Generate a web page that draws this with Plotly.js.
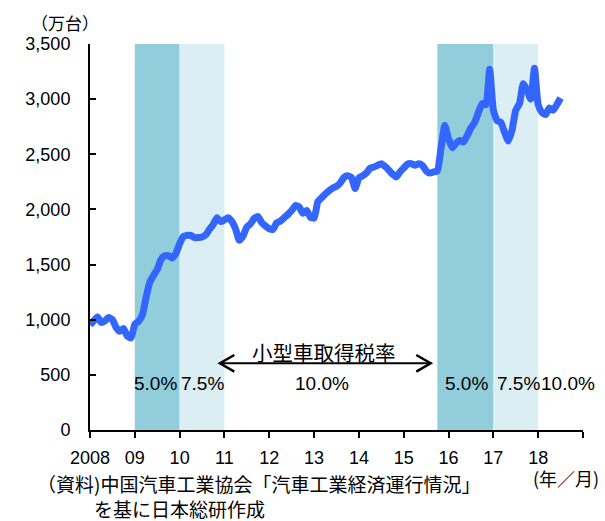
<!DOCTYPE html>
<html>
<head>
<meta charset="utf-8">
<script src="https://cdn.plot.ly/plotly-3.0.1.min.js"></script>
<style>html,body{margin:0;padding:0;background:#fff;}#chart{width:605px;height:521px;}</style>
</head>
<body>
<div id="chart"></div>
<script>
// Monthly sales (annualized, 万台), Jan 2008 - Jul 2018
const startYear = 2008;
const sales = [
  952, 990, 1025, 975, 990, 1020, 1000, 930, 895, 920, 850, 835,
  960, 985, 1040, 1200, 1340, 1400, 1455, 1545, 1580, 1580, 1560, 1600,
  1690, 1755, 1765, 1765, 1745, 1745, 1750, 1770, 1820, 1865, 1925, 1890,
  1905, 1925, 1890, 1820, 1720, 1760, 1840, 1870, 1920, 1935, 1880, 1850,
  1825, 1820, 1880, 1895, 1925, 1955, 1990, 2035, 2022, 1965, 1990, 1930,
  1920, 2070, 2105, 2140, 2170, 2195, 2210, 2240, 2290, 2305, 2290, 2190,
  2285, 2305, 2330, 2375, 2385, 2400, 2415, 2390, 2357, 2320, 2295, 2340,
  2375, 2410, 2415, 2400, 2415, 2400, 2350, 2330, 2340, 2350, 2560, 2760,
  2640, 2560, 2600, 2625, 2611, 2670, 2740, 2790, 2880, 2960, 2950, 3270,
  2900, 2805, 2790, 2700, 2620, 2720, 2900, 2960, 3140, 3080, 3000, 3280,
  2950, 2880, 2860, 2920, 2900, 2950, 3010
];
const monthX = sales.map((_, i) => startYear + i / 12);

const tickVals = [2008, 2009, 2010, 2011, 2012, 2013, 2014, 2015, 2016, 2017, 2018, 2019];
const tickText = ['2008', '09', '10', '11', '12', '13', '14', '15', '16', '17', '18', ''];

// Tax rate periods
const periodStart = [2009, 2010, 2015.75, 2017];
const periodEnd   = [2010, 2011, 2017, 2018];
const periodColor = ['#92CDDC', '#DAEEF3', '#92CDDC', '#DAEEF3'];
const rateLabels = ['5.0%', '7.5%', '10.0%', '5.0%', '7.5%', '10.0%'];
const rateLabelX = [2009.47, 2010.5, 2013.18, 2016.4, 2017.55, 2018.67];

const FONT = 'Liberation Sans, Arial, Noto Sans CJK JP, sans-serif';
const JFONT = 'Noto Sans CJK JP, Liberation Sans, sans-serif';

const shapes = periodStart.map((s, i) => ({
  type: 'rect', xref: 'x', yref: 'y', x0: s, x1: periodEnd[i], y0: 0, y1: 3500,
  fillcolor: periodColor[i], line: {width: 0}, layer: 'below'
}));

// double-headed arrow
const ax0 = 2010.9, ax1 = 2015.6, ay = 605;
const hw = 0.32, hh = 75;
shapes.push({type: 'line', xref: 'x', yref: 'y', x0: ax0, x1: ax1, y0: ay, y1: ay, line: {color: '#000', width: 2}});
shapes.push({type: 'path', xref: 'x', yref: 'y',
  path: `M ${ax0 + hw} ${ay + hh} L ${ax0} ${ay} L ${ax0 + hw} ${ay - hh}`, line: {color: '#000', width: 2.5}});
shapes.push({type: 'path', xref: 'x', yref: 'y',
  path: `M ${ax1 - hw} ${ay + hh} L ${ax1} ${ay} L ${ax1 - hw} ${ay - hh}`, line: {color: '#000', width: 2.5}});

const annotations = rateLabels.map((t, i) => ({
  text: t, x: rateLabelX[i], y: 420, xref: 'x', yref: 'y', showarrow: false,
  font: {family: FONT, size: 19, color: '#000'}
}));
annotations.push({text: '小型車取得税率', x: 2013.22, y: 710, xref: 'x', yref: 'y', showarrow: false,
  font: {family: JFONT, size: 20.5, color: '#000'}});
annotations.push({text: '（万台）', x: 65, y: 22, showarrow: false,
  font: {family: JFONT, size: 17, color: '#000'}});
annotations.push({text: '(年／月)', x: 566, y: 478, showarrow: false,
  font: {family: JFONT, size: 18, color: '#000'}});
annotations.push({text: '（資料)中国汽車工業協会「汽車工業経済運行情況」<br>\u3000\u3000\u3000を基に日本総研作成',
  x: 36, y: 496, xanchor: 'left', align: 'left', showarrow: false,
  font: {family: JFONT, size: 19, color: '#000'}});

// convert pixel-positioned annotations to paper coords
const W = 605, H = 521, L = 90, R = 22, T = 44, B = 91;
annotations.forEach(a => {
  a.borderpad = 0;
  if (a.xref === undefined) {
    const px = a.x, py = a.y;
    a.xref = 'paper'; a.yref = 'paper';
    a.x = (px - L) / (W - L - R);
    a.y = (H - B - py) / (H - T - B);
    a.yanchor = 'middle';
    if (!a.xanchor) a.xanchor = 'center';
  }
});

const data = [{
  x: monthX, y: sales, type: 'scatter', mode: 'lines',
  line: {color: '#3366FF', width: 7, shape: 'spline', smoothing: 0.5},
  hoverinfo: 'skip'
}];

const layout = {
  width: W, height: H,
  margin: {l: L, r: R, t: T, b: B},
  paper_bgcolor: '#fff', plot_bgcolor: '#fff',
  showlegend: false,
  font: {family: FONT, size: 18, color: '#000'},
  xaxis: {
    range: [2008, 2019], tickvals: tickVals, ticktext: tickText,
    ticks: 'outside', ticklen: 6, tickwidth: 2, tickcolor: '#000',
    showline: true, linecolor: '#000', linewidth: 2, showgrid: false, zeroline: false,
    tickfont: {family: FONT, size: 18, color: '#000'}, ticklabelstandoff: 4, fixedrange: true
  },
  yaxis: {
    range: [0, 3500], dtick: 500, tick0: 0, tickformat: ',',
    ticks: 'inside', ticklen: 6, tickwidth: 2, tickcolor: '#000',
    showline: true, linecolor: '#000', linewidth: 2, showgrid: false, zeroline: false,
    tickfont: {family: FONT, size: 18, color: '#000'}, ticklabelstandoff: 14, fixedrange: true
  },
  shapes: shapes,
  annotations: annotations
};

Plotly.newPlot('chart', data, layout, {staticPlot: true});
</script>
</body>
</html>
